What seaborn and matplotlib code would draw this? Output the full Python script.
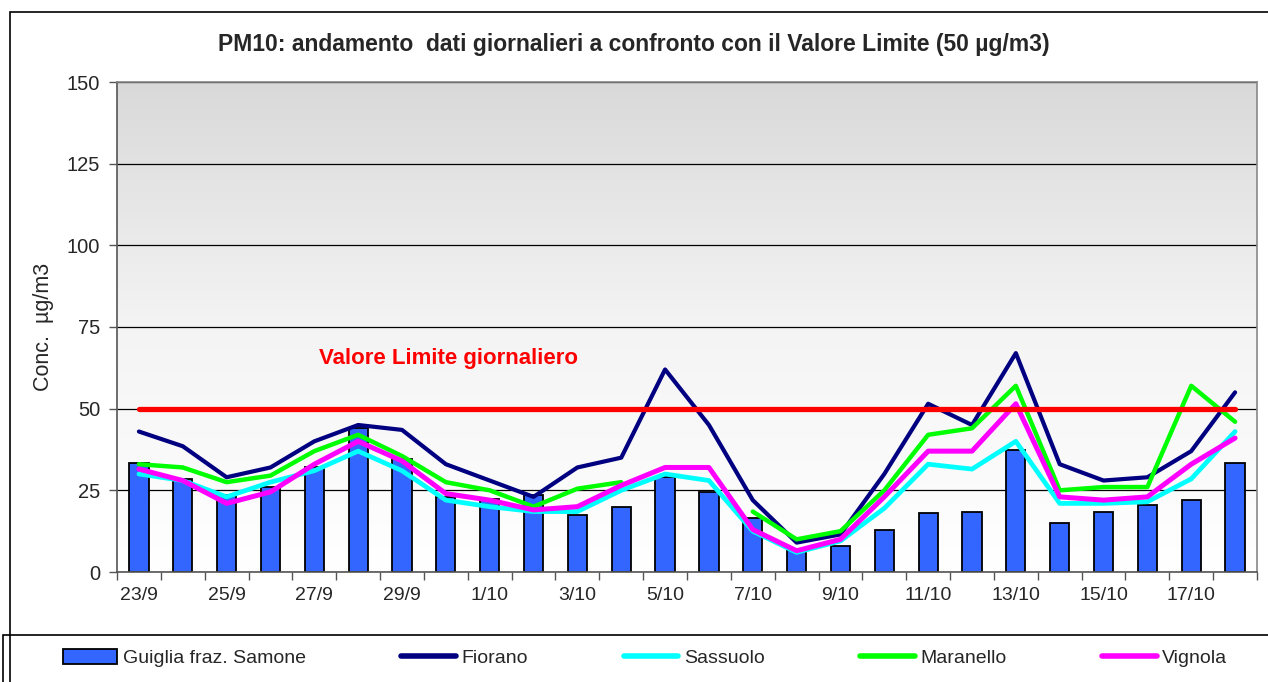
import numpy as np
import pandas as pd
import matplotlib
matplotlib.use("Agg")
import matplotlib.pyplot as plt
import seaborn as sns
from matplotlib.patches import Patch, Rectangle
from matplotlib.lines import Line2D
from matplotlib.colors import LinearSegmentedColormap

# giorni (23/9 -> 18/10)
giorni = ['23/9', '24/9', '25/9', '26/9', '27/9', '28/9', '29/9', '30/9',
          '1/10', '2/10', '3/10', '4/10', '5/10', '6/10', '7/10', '8/10',
          '9/10', '10/10', '11/10', '12/10', '13/10', '14/10', '15/10',
          '16/10', '17/10', '18/10']

# PM10 giornaliero (ug/m3)
guiglia = [33.5, 28.5, 23.5, 26, 32, 44, 34.5, 23, 22.5, 23.5, 17.5, 20, 29,
           24.5, 16.5, 7, 8, 13, 18, 18.5, 37.5, 15, 18.5, 20.5, 22, 33.5]
fiorano = [43, 38.5, 29, 32, 40, 45, 43.5, 33, 28, 23, 32, 35, 62,
           45, 22, 9, 11.5, 30, 51.5, 45, 67, 33, 28, 29, 37, 55]
sassuolo = [30, 28, 23, 27.5, 31, 37, 31, 22, 20, 18.5, 18.5, 25, 30,
            28, 12.5, 6, 9.5, 19.5, 33, 31.5, 40, 21, 21, 21.5, 28.5, 43]
maranello = [33, 32, 27.5, 29.5, 37, 42, 35.5, 27.5, 25, 20, 25.5, 27.5, np.nan,
             np.nan, 18.5, 10, 12.5, 25, 42, 44, 57, 25, 26, 26, 57, 46]
vignola = [31.5, 28, 21, 24.5, 33, 40, 34, 24, 22, 19, 20, 26.5, 32,
           32, 13, 6.5, 10, 23, 37, 37, 51.5, 23, 22, 23, 33, 41]
limite = [50] * len(giorni)

stazioni = ['Guiglia fraz. Samone', 'Fiorano', 'Sassuolo', 'Maranello', 'Vignola']
colori = ['#3366ff', '#000080', '#00ffff', '#00ff00', '#ff00ff']

n = len(giorni)
df = pd.DataFrame({'pos': np.arange(n), 'giorno': giorni, 'guiglia': guiglia,
                   'Fiorano': fiorano, 'Sassuolo': sassuolo,
                   'Maranello': maranello, 'Vignola': vignola, 'limite': limite})

sns.set_style('white')
plt.rcParams['font.family'] = ['Liberation Sans', 'DejaVu Sans']

fig = plt.figure(figsize=(12.68, 6.82), dpi=100)
W, H = 1268, 682
ax = fig.add_axes([117 / W, 1 - 572 / H, (1257 - 117) / W, (572 - 82) / H])

# sfondo sfumato dell'area del grafico
cmap = LinearSegmentedColormap.from_list('sfondo', ['#ffffff', '#f4f4f4', '#d9d9d9'])
ax.imshow(np.linspace(1, 0, 256).reshape(-1, 1), extent=[-0.5, n - 0.5, 0, 150],
          aspect='auto', cmap=cmap, vmin=0, vmax=1, zorder=0)

# barre Guiglia
sns.barplot(data=df, x='pos', y='guiglia', color=colori[0], saturation=1,
            width=0.44, edgecolor='black', linewidth=1.3, ax=ax, zorder=2)

# linee stazioni (Maranello ha dei giorni mancanti -> tratti separati)
larghezze = [3.0, 3.4, 3.2, 3.6]
for st, col, lw in zip(stazioni[1:], colori[1:], larghezze):
    sub = df[['pos', st]].copy()
    sub['tratto'] = sub[st].isna().cumsum()
    sub = sub.dropna()
    sns.lineplot(data=sub, x='pos', y=st, units='tratto', estimator=None,
                 color=col, linewidth=lw, legend=False, ax=ax, zorder=3)

# valore limite
sns.lineplot(data=df, x='pos', y='limite', color='#ff0000', linewidth=3.8,
             solid_capstyle='round', legend=False, ax=ax, zorder=4)
ax.text(4.1, 65.5, 'Valore Limite giornaliero', color='#ff0000', fontsize=16,
        fontweight='bold', va='center', ha='left', zorder=5)

ax.set_xlim(-0.5, n - 0.5)
ax.set_ylim(0, 150)
ax.set_yticks(range(0, 151, 25))
ax.yaxis.grid(True, color='black', linewidth=0.9)
ax.set_axisbelow(True)

ax.set_xticks(np.arange(0, n - 1, 2))
ax.set_xticklabels(giorni[0:n - 1:2])
ax.set_xticks(np.arange(-0.5, n, 1), minor=True)
ax.tick_params(axis='x', which='major', length=0, pad=11, labelsize=14)
ax.tick_params(axis='x', which='minor', length=6, width=1, color='#555555',
               direction='out', bottom=True)
ax.tick_params(axis='y', length=6, width=1, color='#555555', direction='out',
               left=True, pad=6, labelsize=14.5)

ax.set_xlabel('')
ax.set_ylabel('Conc.  µg/m3', fontsize=15.5, labelpad=9)

for lato in ['top', 'right']:
    ax.spines[lato].set_color('#888888')
    ax.spines[lato].set_linewidth(1.2)
for lato in ['left', 'bottom']:
    ax.spines[lato].set_color('#555555')
    ax.spines[lato].set_linewidth(1.2)

fig.text(0.5, 1 - 44 / H,
         'PM10: andamento  dati giornalieri a confronto con il Valore Limite (50 µg/m3)',
         ha='center', va='center', fontsize=16.5, fontweight='bold')

# cornici esterne
fig.patches.append(Rectangle((10 / W, -0.1), 1.2, (H - 12) / H + 0.1,
                             transform=fig.transFigure, fill=False,
                             edgecolor='black', linewidth=1.2))
fig.patches.append(Rectangle((3 / W, -0.1), 1.2, (H - 635) / H + 0.1,
                             transform=fig.transFigure, fill=False,
                             edgecolor='black', linewidth=1.2))

# legenda
maniglie = [Patch(facecolor=colori[0], edgecolor='black', linewidth=1.3)]
for col in colori[1:]:
    maniglie.append(Line2D([], [], color=col, linewidth=4))
fig.legend(maniglie, stazioni, loc='center', ncol=5, mode='expand',
           bbox_to_anchor=(45 / W, 0, (1245 - 45) / W, 2 * (H - 658) / H),
           frameon=False, fontsize=14, handlelength=2.8, handletextpad=0.3,
           handleheight=0.8)

fig.savefig('out.png', dpi=100)
